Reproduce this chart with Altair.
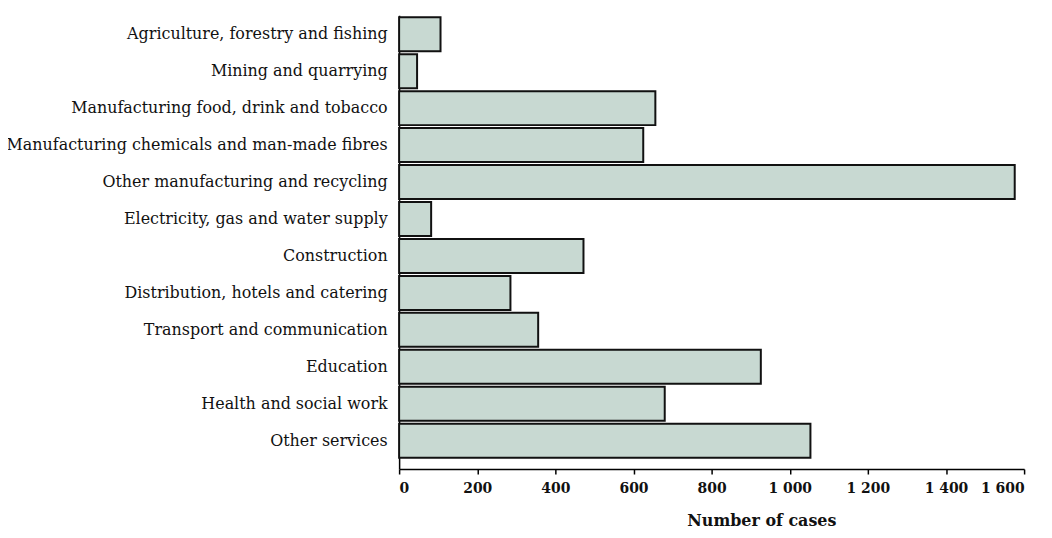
import altair as alt
import pandas as pd

categories = [
    "Agriculture, forestry and fishing",
    "Mining and quarrying",
    "Manufacturing food, drink and tobacco",
    "Manufacturing chemicals and man-made fibres",
    "Other manufacturing and recycling",
    "Electricity, gas and water supply",
    "Construction",
    "Distribution, hotels and catering",
    "Transport and communication",
    "Education",
    "Health and social work",
    "Other services",
]
cases = [106, 46, 656, 625, 1576, 82, 472, 285, 356, 926, 680, 1053]
x_ticks = [0, 200, 400, 600, 800, 1000, 1200, 1400, 1600]

df = pd.DataFrame({"category": categories, "cases": cases})

FONT = "DejaVu Serif"

chart = (
    alt.Chart(df)
    .mark_bar(fill="#c8d9d2", stroke="#111111", strokeWidth=2)
    .encode(
        y=alt.Y(
            "category:N",
            sort=categories,
            title=None,
            scale=alt.Scale(paddingInner=0.08, paddingOuter=0.18, align=0.15),
            axis=alt.Axis(
                ticks=False,
                domainColor="#000000",
                domainWidth=1.5,
                labelFont=FONT,
                labelFontSize=16,
                labelColor="#111111",
                labelPadding=12,
                labelLimit=420,
            ),
        ),
        x=alt.X(
            "cases:Q",
            scale=alt.Scale(domain=[0, 1600], nice=False, zero=True),
            title="Number of cases",
            axis=alt.Axis(
                values=x_ticks,
                grid=False,
                domainColor="#000000",
                domainWidth=1.5,
                tickColor="#000000",
                tickWidth=1.5,
                tickSize=5,
                labelFont=FONT,
                labelFontSize=14,
                labelFontWeight="bold",
                labelColor="#111111",
                labelPadding=8,
                labelExpr="replace(format(datum.value, ','), ',', ' ')",
                titleFont=FONT,
                titleFontSize=16,
                titleFontWeight="bold",
                titleColor="#111111",
                titleX=364,
                titleY=57,
                titleAlign="center",
                titleBaseline="alphabetic",
            ),
        ),
    )
    .properties(
        width=628,
        height=456,
        autosize=alt.AutoSizeParams(type="none"),
        padding={"left": 393, "top": 6, "right": 20, "bottom": 60},
    )
    .configure_view(stroke=None)
)

chart.save("out.html", embed_options={"renderer": "svg", "actions": False})
